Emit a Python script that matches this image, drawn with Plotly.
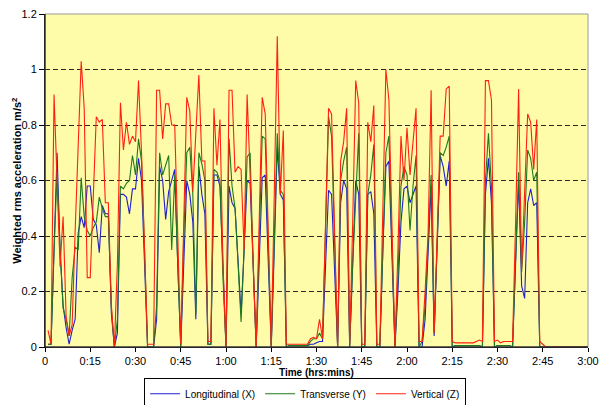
import plotly.graph_objects as go

# Time in minutes from start
time_min = list(range(1, 181))

# Longitudinal (X) - blue
long_x = [
    0.01, 0.01, 0.35, 0.70, 0.35, 0.15, 0.07, 0.01, 0.06, 0.10,
    0.41, 0.47, 0.43, 0.58, 0.58, 0.46, 0.44, 0.34, 0.51, 0.48,
    0.48, 0.12, 0.0, 0.05, 0.55, 0.55, 0.54, 0.48, 0.57, 0.57,
    0.68, 0.60, 0.30, 0.0, 0.0, 0.0, 0.10, 0.65, 0.60, 0.46,
    0.56, 0.60, 0.64, 0.30, 0.0, 0.30, 0.60, 0.55, 0.45, 0.10,
    0.65, 0.55, 0.48, 0.01, 0.01, 0.62, 0.62, 0.58, 0.25, 0.0,
    0.58, 0.52, 0.50, 0.30, 0.12, 0.35, 0.60, 0.59, 0.30, 0.0,
    0.30, 0.61, 0.62, 0.30, 0.0, 0.35, 0.72, 0.55, 0.53, 0.0,
    0.005, 0.005, 0.005, 0.005, 0.005, 0.005, 0.005, 0.01, 0.01, 0.015,
    0.02, 0.02, 0.30, 0.565, 0.55, 0.25, 0.0, 0.52, 0.60, 0.57,
    0.0, 0.30, 0.60, 0.55, 0.0, 0.0, 0.55, 0.56, 0.48, 0.0,
    0.0, 0.35, 0.65, 0.67, 0.30, 0.0, 0.20, 0.45, 0.57, 0.58,
    0.52, 0.55, 0.58, 0.0, 0.0, 0.10, 0.35, 0.58, 0.04, 0.40,
    0.69, 0.65, 0.58, 0.67, 0.0, 0.005, 0.005, 0.005, 0.005, 0.005,
    0.005, 0.005, 0.005, 0.005, 0.0, 0.55, 0.68, 0.52, 0.0, 0.005,
    0.005, 0.005, 0.005, 0.005, 0.0, 0.30, 0.60, 0.22, 0.175, 0.52,
    0.57, 0.51, 0.52, 0.0, 0.0, 0.0, 0.0, 0.0, 0.0, 0.0,
    0.0, 0.0, 0.0, 0.0, 0.0, 0.0, 0.0, 0.0, 0.0, 0.0,
]

# Transverse (Y) - green
trans_y = [
    0.01, 0.01, 0.35, 0.63, 0.35, 0.14, 0.10, 0.04, 0.25, 0.36,
    0.35, 0.61, 0.47, 0.42, 0.40, 0.43, 0.45, 0.54, 0.50, 0.47,
    0.47, 0.14, 0.0, 0.10, 0.58, 0.57, 0.59, 0.60, 0.69, 0.62,
    0.75, 0.67, 0.35, 0.0, 0.0, 0.0, 0.15, 0.70, 0.62, 0.66,
    0.69, 0.35, 0.62, 0.30, 0.0, 0.40, 0.70, 0.72, 0.55, 0.12,
    0.70, 0.66, 0.60, 0.01, 0.01, 0.64, 0.63, 0.60, 0.25, 0.0,
    0.75, 0.58, 0.50, 0.30, 0.09, 0.35, 0.685, 0.70, 0.30, 0.0,
    0.40, 0.76, 0.75, 0.35, 0.0, 0.38, 0.77, 0.565, 0.55, 0.0,
    0.005, 0.005, 0.005, 0.005, 0.005, 0.005, 0.005, 0.02, 0.03, 0.03,
    0.05, 0.03, 0.45, 0.83, 0.76, 0.38, 0.0, 0.60, 0.67, 0.72,
    0.0, 0.30, 0.55, 0.77, 0.0, 0.0, 0.55, 0.62, 0.73, 0.0,
    0.0, 0.40, 0.70, 0.76, 0.35, 0.0, 0.25, 0.58, 0.65, 0.62,
    0.42, 0.58, 0.69, 0.0, 0.02, 0.15, 0.38, 0.62, 0.05, 0.40,
    0.70, 0.69, 0.72, 0.76, 0.0, 0.005, 0.005, 0.005, 0.005, 0.005,
    0.005, 0.005, 0.005, 0.005, 0.0, 0.60, 0.77, 0.58, 0.0, 0.005,
    0.005, 0.005, 0.005, 0.005, 0.0, 0.30, 0.63, 0.27, 0.45, 0.71,
    0.68, 0.60, 0.63, 0.0, 0.0, 0.0, 0.0, 0.0, 0.0, 0.0,
    0.0, 0.0, 0.0, 0.0, 0.0, 0.0, 0.0, 0.0, 0.0, 0.0,
]

# Vertical (Z) - red
vert_z = [
    0.06, 0.01, 0.91, 0.60, 0.29, 0.47, 0.11, 0.04, 0.08, 0.42,
    0.74, 1.03, 0.86, 0.25, 0.25, 0.55, 0.83, 0.81, 0.82, 0.52,
    0.52, 0.15, 0.0, 0.30, 0.88, 0.71, 0.81, 0.73, 0.76, 0.74,
    0.96, 0.70, 0.35, 0.01, 0.01, 0.01, 0.925, 0.925, 0.75, 0.876,
    0.876, 0.80, 0.80, 0.40, 0.01, 0.45, 0.90, 0.85, 0.56, 0.77,
    0.98, 0.67, 0.67, 0.02, 0.02, 0.86, 0.655, 0.82, 0.30, 0.0,
    0.925, 0.925, 0.63, 0.65, 0.64, 0.35, 0.91, 0.62, 0.30, 0.0,
    0.45, 0.90, 0.84, 0.40, 0.0, 0.55, 1.12, 0.55, 0.78, 0.01,
    0.01, 0.01, 0.01, 0.01, 0.01, 0.01, 0.01, 0.03, 0.035, 0.03,
    0.10, 0.03, 0.45, 0.86, 0.84, 0.42, 0.0, 0.67, 0.74, 0.86,
    0.01, 0.45, 0.96, 0.88, 0.01, 0.01, 0.81, 0.74, 0.87, 0.01,
    0.01, 0.50, 1.0, 0.89, 0.40, 0.0, 0.35, 0.76, 0.60, 0.79,
    0.62, 0.75, 0.86, 0.02, 0.02, 0.20, 0.41, 0.925, 0.05, 0.40,
    0.76, 0.76, 0.93, 0.94, 0.02, 0.015, 0.015, 0.015, 0.015, 0.015,
    0.015, 0.015, 0.02, 0.025, 0.02, 0.96, 0.96, 0.89, 0.02, 0.025,
    0.015, 0.02, 0.02, 0.02, 0.02, 0.45, 0.93, 0.28, 0.55, 0.84,
    0.81, 0.64, 0.82, 0.02, 0.01, 0.0, 0.0, 0.0, 0.0, 0.0,
    0.0, 0.0, 0.0, 0.0, 0.0, 0.0, 0.0, 0.0, 0.0, 0.0,
]

x_tick_vals = [0, 15, 30, 45, 60, 75, 90, 105, 120, 135, 150, 165, 180]
x_tick_text = ["0", "0:15", "0:30", "0:45", "1:00", "1:15", "1:30", "1:45",
               "2:00", "2:15", "2:30", "2:45", "3:00"]
y_tick_vals = [0, 0.2, 0.4, 0.6, 0.8, 1.0, 1.2]
y_tick_text = ["0", "0.2", "0.4", "0.6", "0.8", "1", "1.2"]

series_names = ["Longitudinal (X)", "Transverse (Y)", "Vertical (Z)"]
series_colors = ["#2020D0", "#1E7A1E", "#FF2010"]

FONT = "Arial, 'Liberation Sans', sans-serif"

fig = go.Figure()
for name, vals, col in zip(series_names, [long_x, trans_y, vert_z], series_colors):
    fig.add_trace(go.Scatter(
        x=time_min, y=vals, mode="lines", name=name,
        line=dict(color=col, width=1.1),
    ))

fig.update_layout(
    width=600, height=405,
    margin=dict(l=45, r=12, t=14, b=58, autoexpand=False),
    paper_bgcolor="white",
    plot_bgcolor="#FEFCA8",
    font=dict(family=FONT, size=11, color="black"),
    showlegend=True,
    legend=dict(
        orientation="h", x=0.479, xanchor="center", y=-0.094, yanchor="top",
        bordercolor="black", borderwidth=1, bgcolor="white",
        font=dict(size=10, family=FONT, color="black"),
        itemwidth=30, tracegroupgap=0,
    ),
    xaxis=dict(
        range=[0, 180], tickmode="array", tickvals=x_tick_vals, ticktext=x_tick_text,
        showgrid=False, zeroline=False, showline=True, linecolor="black", linewidth=1,
        ticks="outside", ticklen=4, tickcolor="black",
        tickfont=dict(size=11, family=FONT, color="black"),
    ),
    yaxis=dict(
        range=[0, 1.2], tickmode="array", tickvals=y_tick_vals, ticktext=y_tick_text,
        showgrid=True, gridcolor="#2a2a2a", gridwidth=1, griddash="5px,3px",
        zeroline=False, showline=True, linecolor="black", linewidth=1,
        ticks="outside", ticklen=5, tickcolor="black",
        tickfont=dict(size=11, family=FONT, color="black"),
    ),
    annotations=[
        dict(text="<b>Time (hrs:mins)</b>", xref="paper", yref="paper",
             x=0.5, y=-0.076, xanchor="center", yanchor="middle", showarrow=False,
             font=dict(size=10, family=FONT, color="black")),
        dict(text="<b>Weighted rms acceleration m/s<sup>2</sup></b>", xref="paper", yref="paper",
             x=-0.053, y=0.5, xanchor="center", yanchor="middle", textangle=-90,
             showarrow=False, font=dict(size=11, family=FONT, color="black")),
    ],
    shapes=[
        dict(type="rect", xref="paper", yref="paper", x0=0, x1=1, y0=0, y1=1,
             line=dict(color="#9a9a9a", width=1), layer="above"),
        dict(type="line", xref="paper", yref="paper", x0=0, x1=0, y0=0, y1=1,
             line=dict(color="black", width=1), layer="above"),
        dict(type="line", xref="paper", yref="paper", x0=0, x1=1, y0=0, y1=0,
             line=dict(color="black", width=1), layer="above"),
    ],
)

fig.write_html(
    "out.html",
    config={"displayModeBar": False},
    post_script="document.body.style.margin='0px';document.body.style.overflow='hidden';",
)
